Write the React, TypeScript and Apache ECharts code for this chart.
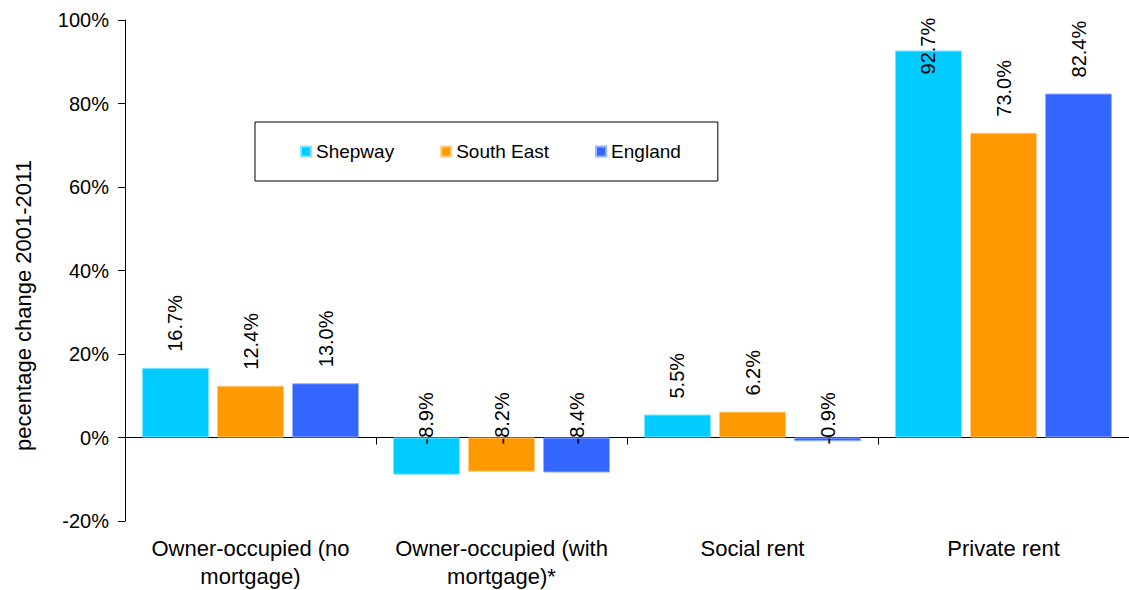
import React, { useEffect, useRef } from "react";
import * as echarts from "echarts";

const categories = [
  "Owner-occupied (no\nmortgage)",
  "Owner-occupied (with\nmortgage)*",
  "Social rent",
  "Private rent",
];
const seriesNames = ["Shepway", "South East", "England"];
const shepway = [16.7, -8.9, 5.5, 92.7];
const southEast = [12.4, -8.2, 6.2, 73.0];
const england = [13.0, -8.4, -0.9, 82.4];
const yMin = -20;
const yMax = 100;
const yInterval = 20;
const yTitle = "pecentage change 2001-2011";

const colors = ["#00CCFF", "#FF9900", "#3366FF"];
const borderColors = ["#7FE5FF", "#FFCC80", "#99B2FF"];
const FONT = "'Liberation Sans', Arial, sans-serif";

export default function App() {
  const ref = useRef<HTMLDivElement>(null);

  useEffect(() => {
    if (!ref.current) return;
    const chart = echarts.init(ref.current, undefined, { renderer: "svg" });
    const allValues = [shepway, southEast, england];

    // labels that would run past the top of the plot are pulled down into the bar
    const labelFor = (v: number) => {
      if (v < 0) return { distance: -7 };
      if (v > 88) return { distance: -24 };
      return undefined;
    };

    const series = allValues.map((vals, i) => ({
      name: seriesNames[i],
      type: "bar",
      xAxisIndex: 0,
      barWidth: 67,
      barGap: "12%",
      itemStyle: { color: colors[i], borderColor: borderColors[i], borderWidth: 1 },
      label: {
        show: true,
        position: "top",
        rotate: 90,
        align: "left",
        verticalAlign: "middle",
        distance: 16,
        color: "#000",
        fontSize: 20,
        fontFamily: FONT,
        formatter: (p: any) => Number(p.value).toFixed(1) + "%",
      },
      data: vals.map((v) => {
        const l = labelFor(v);
        return l ? { value: v, label: l } : { value: v };
      }),
    }));

    chart.setOption({
      animation: false,
      backgroundColor: "#fff",
      textStyle: { fontFamily: FONT },
      color: colors,
      grid: { left: 125, right: 0, top: 20, bottom: 69, containLabel: false },
      legend: {
        data: seriesNames,
        left: 255,
        top: 122,
        orient: "horizontal",
        itemWidth: 10,
        itemHeight: 10,
        itemGap: 46,
        icon: "rect",
        padding: [20, 37, 20, 45],
        borderColor: "#000",
        borderWidth: 1,
        backgroundColor: "#fff",
        textStyle: { fontSize: 19, color: "#000", fontFamily: FONT },
      },
      xAxis: [
        {
          type: "category",
          data: categories,
          axisLine: { onZero: true, lineStyle: { color: "#000", width: 1 } },
          axisTick: { show: true, length: 7, lineStyle: { color: "#000" } },
          axisLabel: { show: false },
          splitLine: { show: false },
        },
        {
          type: "category",
          data: categories,
          position: "bottom",
          axisLine: { show: false, onZero: false },
          axisTick: { show: false },
          axisLabel: {
            show: true,
            margin: 13,
            fontSize: 22,
            lineHeight: 28,
            color: "#000",
            fontFamily: FONT,
            interval: 0,
          },
          splitLine: { show: false },
        },
      ],
      yAxis: {
        type: "value",
        min: yMin,
        max: yMax,
        interval: yInterval,
        name: yTitle,
        nameLocation: "middle",
        nameRotate: 90,
        nameGap: 91,
        nameTextStyle: { fontSize: 22, color: "#000", fontFamily: FONT, padding: [0, 70, 0, 0] },
        axisLine: { show: true, lineStyle: { color: "#000", width: 1 } },
        axisTick: { show: true, length: 7, lineStyle: { color: "#000" } },
        axisLabel: {
          formatter: "{value}%",
          fontSize: 20,
          color: "#000",
          margin: 16,
          fontFamily: FONT,
        },
        splitLine: { show: false },
      },
      series,
    });

    return () => chart.dispose();
  }, []);

  return (
    <div
      ref={ref}
      style={{ position: "absolute", left: 0, top: 0, width: 1129, height: 590, background: "#fff" }}
    />
  );
}
